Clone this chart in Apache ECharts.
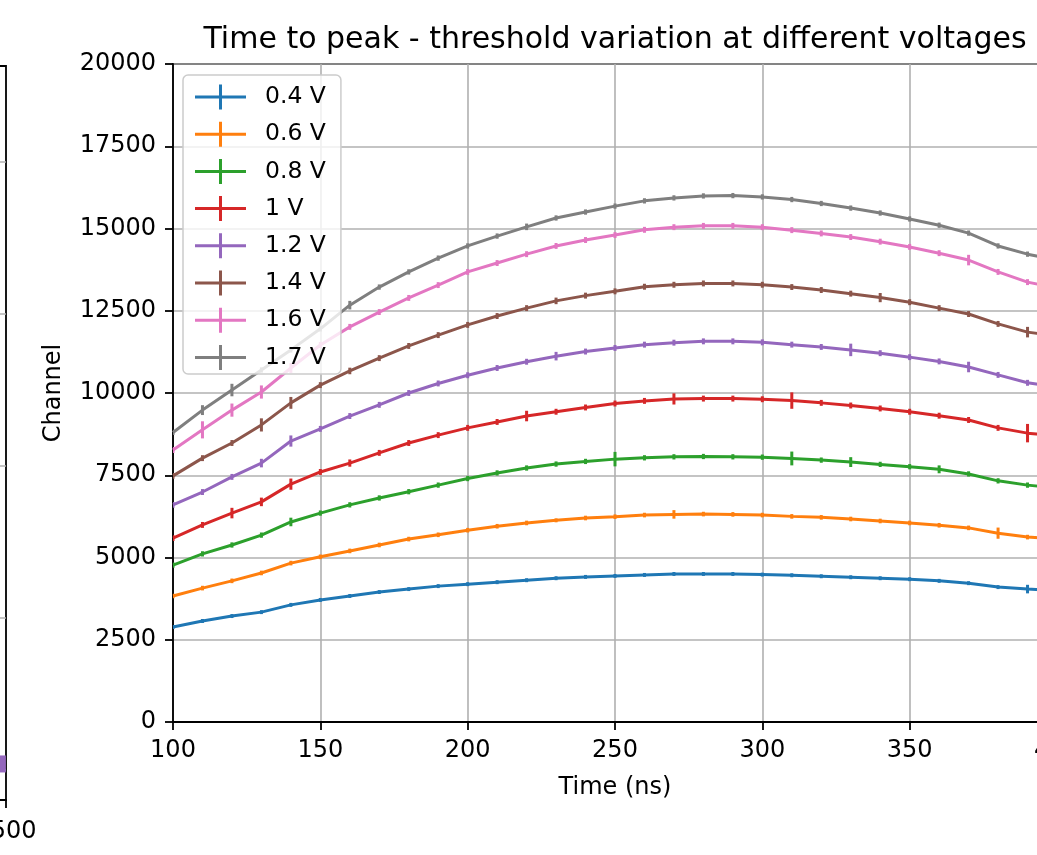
<!DOCTYPE html>
<html><head><meta charset="utf-8">
<script src="https://cdn.jsdelivr.net/npm/echarts@6/dist/echarts.min.js"></script>
<style>html,body{margin:0;padding:0;overflow:hidden;background:#fff;width:1037px;height:855px}
#c{width:1100px;height:855px}</style></head>
<body><div id="c"></div>
<script>
const FONT = 'DejaVu Sans';
const timeNs = [100,110,120,130,140,150,160,170,180,190,200,210,220,230,240,250,260,270,280,290,300,310,320,330,340,350,360,370,380,390,400];
const seriesNames = ['0.4 V','0.6 V','0.8 V','1 V','1.2 V','1.4 V','1.6 V','1.7 V'];
const seriesColors = ['#1f77b4','#ff7f0e','#2ca02c','#d62728','#9467bd','#8c564b','#e377c2','#7f7f7f'];

const v04 = [2890,3070,3220,3340,3560,3710,3830,3950,4040,4130,4190,4250,4310,4370,4410,4440,4470,4500,4500,4500,4480,4460,4430,4400,4370,4340,4290,4220,4100,4040,3990];
const v06 = [3830,4070,4290,4530,4830,5020,5200,5380,5560,5690,5830,5950,6050,6130,6200,6240,6290,6310,6320,6310,6290,6250,6220,6170,6110,6050,5980,5900,5740,5620,5560];
const v08 = [4770,5110,5380,5680,6080,6350,6600,6810,7000,7200,7400,7570,7720,7840,7920,7990,8030,8060,8070,8060,8050,8010,7960,7900,7830,7760,7680,7540,7330,7200,7110];
const v10 = [5590,5990,6350,6690,7230,7600,7870,8180,8480,8720,8940,9120,9300,9430,9560,9680,9760,9820,9830,9830,9810,9770,9700,9620,9530,9430,9310,9180,8940,8780,8700];
const v12 = [6600,6990,7450,7870,8540,8910,9300,9640,10000,10290,10540,10760,10950,11120,11260,11370,11470,11530,11570,11570,11540,11470,11400,11310,11210,11090,10960,10790,10550,10310,10180];
const v14 = [7480,8020,8480,9030,9700,10240,10670,11060,11430,11760,12070,12340,12580,12800,12960,13090,13230,13290,13330,13330,13290,13220,13130,13020,12900,12760,12580,12400,12100,11850,11730];
const v16 = [8270,8880,9480,10030,10760,11460,12010,12460,12890,13280,13680,13950,14220,14470,14650,14800,14960,15040,15080,15080,15040,14950,14850,14740,14600,14440,14250,14040,13680,13370,13190];
const v17 = [8800,9480,10090,10700,11310,11950,12670,13220,13680,14100,14470,14770,15050,15320,15500,15680,15840,15930,15990,16000,15960,15880,15760,15620,15470,15290,15100,14860,14470,14220,14040];

const e04 = [60,60,60,60,60,60,60,60,60,60,60,60,60,60,60,60,60,60,60,60,60,60,60,60,60,60,60,60,60,130,60];
const e06 = [70,70,70,70,70,70,70,70,70,70,70,70,70,60,70,70,70,130,70,70,70,70,70,70,70,70,70,70,170,70,70];
const e08 = [80,80,80,80,130,80,80,80,80,80,80,80,80,80,80,220,80,80,80,80,80,210,80,150,80,80,120,80,80,80,80];
const e10 = [90,90,160,130,170,90,110,90,90,90,90,90,160,90,90,90,90,170,90,90,90,250,90,90,90,90,90,90,90,280,90];
const e12 = [90,90,90,130,170,90,90,90,90,90,90,90,90,130,90,90,90,90,90,90,90,90,90,190,90,90,90,160,90,90,90];
const e14 = [90,90,90,200,180,90,100,90,90,90,90,90,90,100,90,90,90,90,90,90,90,90,90,90,140,90,90,90,90,160,90];
const e16 = [90,260,200,200,150,90,90,90,90,90,90,90,90,90,90,90,90,90,90,90,90,90,90,90,90,90,90,160,90,90,90];
const e17 = [80,150,190,80,80,80,130,80,80,80,80,80,100,80,80,80,80,80,80,80,80,80,80,80,80,80,80,80,80,80,80];

const yTicks = [0,2500,5000,7500,10000,12500,15000,17500,20000];
const xTicks = [100,150,200,250,300,350,400];

// fragment of neighbouring panel at the left edge
const leftX = [2450];
const leftY = [100];
const leftGridValues = [0,2500,5000,7500,10000];

const values = [v04,v06,v08,v10,v12,v14,v16,v17];
const errors = [e04,e06,e08,e10,e12,e14,e16,e17];

const LW = 3;
const series = [];
seriesNames.forEach((name, i) => {
  series.push({
    name, type: 'line', xAxisIndex: 0, yAxisIndex: 0,
    data: timeNs.map((t, k) => [t, values[i][k]]),
    showSymbol: false, symbol: 'none', smooth: false,
    lineStyle: { color: seriesColors[i], width: LW },
    itemStyle: { color: seriesColors[i] },
    z: 2 + i * 2, animation: false, silent: true
  });
  series.push({
    name, type: 'custom', xAxisIndex: 0, yAxisIndex: 0,
    data: timeNs.map((t, k) => [t, values[i][k], errors[i][k]]),
    encode: { x: 0, y: 1 },
    itemStyle: { color: seriesColors[i] },
    clip: true,
    renderItem: function (params, api) {
      const x = api.value(0), y = api.value(1), e = api.value(2);
      const a = api.coord([x, y + e]);
      const b = api.coord([x, y - e]);
      return { type: 'line', shape: { x1: a[0], y1: a[1], x2: b[0], y2: b[1] },
        style: { stroke: seriesColors[i], lineWidth: LW } };
    },
    z: 3 + i * 2, animation: false, silent: true
  });
});

// left panel fragment
series.push({
  type: 'line', xAxisIndex: 1, yAxisIndex: 1, data: [[leftX[0], leftY[0]]],
  showSymbol: false, lineStyle: { width: 0 }, silent: true, animation: false, z: 1,
  markLine: {
    silent: true, symbol: 'none', animation: false,
    label: { show: false },
    lineStyle: { color: '#b0b0b0', type: 'solid', width: 1.6 },
    data: leftGridValues.map(v => ({ yAxis: v }))
  }
});
series.push({
  type: 'custom', xAxisIndex: 1, yAxisIndex: 1,
  data: leftX.map((x, k) => [x, leftY[k]]),
  encode: { x: 0, y: 1 }, animation: false, silent: true, z: 5,
  renderItem: function (params, api) {
    const p = api.coord([api.value(0), api.value(1)]);
    const rect = echarts.graphic.clipRectByRect(
      { x: p[0] - 8, y: p[1] - 8.5, width: 16, height: 17 },
      { x: params.coordSys.x, y: params.coordSys.y, width: params.coordSys.width, height: params.coordSys.height });
    if (!rect) return null;
    return { type: 'rect', shape: rect, style: { fill: '#9467bd' } };
  }
});

const axisFont = { fontFamily: FONT, fontSize: 24, color: '#000' };
const plain = v => String(v);
const chart = echarts.init(document.getElementById('c'), null, { renderer: 'canvas' });
chart.setOption({
  animation: false,
  backgroundColor: '#fff',
  title: {
    text: 'Time to peak - threshold variation at different voltages',
    left: 615, top: 25, textAlign: 'center', padding: 0,
    textStyle: { fontFamily: FONT, fontSize: 30, fontWeight: 'normal', color: '#000' }
  },
  legend: {
    orient: 'vertical', left: 183, top: 75,
    padding: [9.5, 15, 4, 12],
    itemWidth: 51, itemHeight: 25, itemGap: 12.2,
    icon: 'path://M0,11h51v3h-51z M24,0h3v25h-3z',
    backgroundColor: 'rgba(255,255,255,0.8)', borderColor: '#cccccc', borderWidth: 1.5, borderRadius: 5,
    textStyle: { fontFamily: FONT, fontSize: 23.5, color: '#000', padding: [0, 0, 0, 14] },
    data: seriesNames, selectedMode: false, z: 50
  },
  grid: [
    { left: 173, right: 43, top: 64, bottom: 133, show: true, borderColor: '#000', borderWidth: 1.8, backgroundColor: 'transparent', containLabel: false, outerBoundsMode: 'none' },
    { left: -400, right: 1094, top: 66, bottom: 55, show: true, borderColor: '#000', borderWidth: 1.8, backgroundColor: 'transparent', containLabel: false, outerBoundsMode: 'none' }
  ],
  xAxis: [
    {
      type: 'value', gridIndex: 0, min: 100, max: 400, interval: 50,
      name: 'Time (ns)', nameLocation: 'middle', nameGap: 54,
      nameTextStyle: axisFont,
      axisLine: { show: true, onZero: false, lineStyle: { color: '#000', width: 1.8 } },
      axisTick: { show: true, length: 8, lineStyle: { color: '#000', width: 1.8 } },
      axisLabel: Object.assign({ margin: 17, formatter: plain }, axisFont),
      splitLine: { show: true, lineStyle: { color: '#b0b0b0', width: 1.6 } }
    },
    {
      type: 'value', gridIndex: 1, min: 0, max: 2500, interval: 500,
      axisLine: { show: true, onZero: false, lineStyle: { color: '#000', width: 1.8 } },
      axisTick: { show: true, length: 8, lineStyle: { color: '#000', width: 1.8 } },
      axisLabel: Object.assign({ margin: 20, formatter: plain, showMinLabel: true, showMaxLabel: true, hideOverlap: false }, axisFont),
      splitLine: { show: false }
    }
  ],
  yAxis: [
    {
      type: 'value', gridIndex: 0, min: 0, max: 20000, interval: 2500,
      name: 'Channel', nameLocation: 'middle', nameGap: 107, nameRotate: 90,
      nameTextStyle: axisFont,
      axisLine: { show: true, onZero: false, lineStyle: { color: '#000', width: 1.8 } },
      axisTick: { show: true, length: 8, lineStyle: { color: '#000', width: 1.8 } },
      axisLabel: Object.assign({ margin: 17, formatter: plain }, axisFont),
      splitLine: { show: true, lineStyle: { color: '#b0b0b0', width: 1.6 } }
    },
    {
      type: 'value', gridIndex: 1, min: -493, max: 11579,
      axisLine: { show: false }, axisTick: { show: false }, axisLabel: { show: false },
      splitLine: { show: false }
    }
  ],
  series
});
</script>
</body></html>
